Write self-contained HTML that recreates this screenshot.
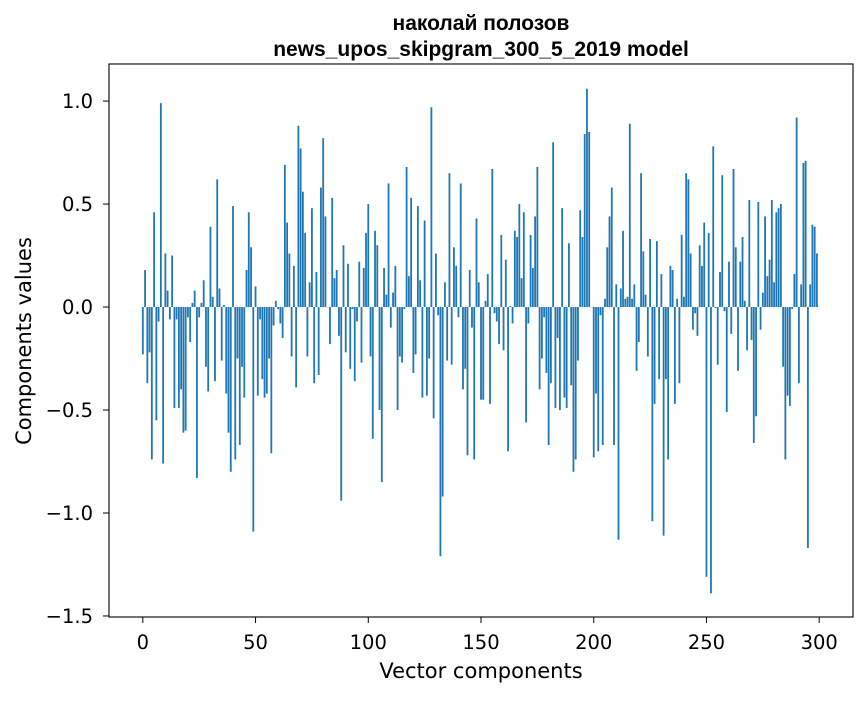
<!DOCTYPE html>
<html><head><meta charset="utf-8"><style>
body{margin:0;background:#fff}
svg text{font-family:"DejaVu Sans","Liberation Sans",sans-serif;fill:#000}
svg text.ttl{font-family:"Liberation Sans","DejaVu Sans",sans-serif}
</style></head><body>
<svg id="chart" width="867" height="696" xmlns="http://www.w3.org/2000/svg">
<rect width="867" height="696" fill="#fff"/>
<text class="ttl" x="481" y="30" text-anchor="middle" font-size="21" font-weight="bold">наколай полозов</text>
<text class="ttl" x="481" y="56" text-anchor="middle" font-size="21" font-weight="bold">news_upos_skipgram_300_5_2019 model</text>
<g id="bars"></g>
<g id="axes"></g>
<rect x="109" y="64" width="744" height="553" fill="none" stroke="#000" stroke-width="1.1"/>
<text x="481" y="678" text-anchor="middle" font-size="21">Vector components</text>
<text transform="translate(31,341) rotate(-90)" text-anchor="middle" font-size="21">Components values</text>
</svg>
<script>
const values = [
-0.23,0.18,-0.37,-0.22,-0.74,0.46,-0.55,-0.07,0.99,-0.76,
0.26,0.08,-0.06,0.25,-0.49,-0.06,-0.49,-0.40,-0.61,-0.60,
-0.05,-0.17,0.02,0.08,-0.83,-0.05,0.02,0.13,-0.29,-0.41,
0.39,0.05,-0.36,0.62,0.09,-0.26,0.01,-0.42,-0.61,-0.80,
0.49,-0.74,-0.25,-0.67,-0.29,-0.44,0.18,0.46,0.29,-1.09,
0.10,-0.43,-0.06,-0.35,-0.44,-0.42,-0.25,-0.71,-0.09,0.03,
-0.01,-0.08,-0.15,0.69,0.41,0.26,-0.24,0.20,-0.39,0.88,
0.77,0.56,0.36,-0.24,0.12,0.48,-0.37,0.17,-0.33,0.58,
0.82,0.44,0.00,-0.18,0.53,0.14,0.18,-0.14,-0.94,0.30,
-0.22,0.21,-0.30,-0.01,-0.36,-0.07,0.22,-0.27,0.19,0.36,
0.50,-0.24,-0.64,0.37,0.30,-0.50,-0.85,0.19,0.06,0.60,
-0.10,0.07,0.20,-0.50,-0.24,-0.27,-0.01,0.68,0.15,0.53,
-0.32,-0.23,0.49,0.13,-0.44,0.42,-0.43,-0.25,0.97,-0.54,
0.26,-0.04,-1.21,-0.92,0.12,-0.26,0.65,-0.28,0.29,0.20,
-0.05,0.60,-0.40,-0.30,-0.72,0.18,-0.10,-0.74,0.43,0.12,
-0.45,-0.45,0.03,0.16,-0.47,0.67,-0.03,-0.07,-0.18,0.35,
-0.21,0.23,-0.70,0.005,-0.08,0.37,0.34,0.50,0.14,0.46,
-0.56,-0.08,0.35,0.19,0.44,0.68,-0.40,-0.25,-0.05,-0.32,
-0.67,-0.37,0.80,-0.49,-0.15,-0.50,0.48,-0.44,-0.49,0.31,
-0.38,-0.80,-0.74,-0.26,0.47,0.34,0.84,1.06,0.85,0.00,
-0.73,-0.42,-0.70,-0.04,-0.67,0.04,0.29,0.44,0.58,-0.67,
0.11,-1.13,0.09,0.37,0.04,0.05,0.89,0.04,0.11,-0.31,
-0.17,0.65,0.27,0.06,-0.24,0.33,-1.04,-0.47,0.32,-0.35,
0.16,-1.11,-0.35,-0.74,0.20,0.18,-0.47,0.04,-0.37,0.35,
0.05,0.65,0.62,0.26,-0.11,-0.03,-0.14,0.30,0.20,0.41,
-1.31,0.36,-1.39,0.78,-0.005,-0.28,0.17,0.64,-0.02,-0.51,
0.22,-0.13,0.67,0.29,-0.31,0.22,0.34,0.03,-0.21,0.52,
-0.16,-0.66,-0.53,0.51,-0.11,0.07,0.44,0.15,0.23,0.52,
0.12,0.46,0.48,0.50,-0.29,-0.74,-0.43,-0.48,-0.01,0.16,
0.92,-0.37,0.11,0.70,0.71,-1.17,0.11,0.40,0.39,0.26];
const xTicks = [0,50,100,150,200,250,300];
const yTicks = [-1.5,-1.0,-0.5,0.0,0.5,1.0];
const yTickLabels = ["\u22121.5","\u22121.0","\u22120.5","0.0","0.5","1.0"];

const X0=109,X1=853,Y0=64,Y1=617;
const xMin=-15,xMax=315,yMin=-1.505,yMax=1.18;
const xs=v=>X0+(v-xMin)/(xMax-xMin)*(X1-X0);
const ys=v=>Y1-(v-yMin)/(yMax-yMin)*(Y1-Y0);
const NS="http://www.w3.org/2000/svg";
const bars=document.getElementById('bars');
values.forEach((v,i)=>{
  const r=document.createElementNS(NS,'rect');
  const xl=xs(i-0.4),xr=xs(i+0.4);
  const y=Math.min(ys(v),ys(0)),h=Math.abs(ys(v)-ys(0));
  r.setAttribute('x',xl);r.setAttribute('width',xr-xl);
  r.setAttribute('y',y);r.setAttribute('height',Math.max(h,0.3));
  r.setAttribute('fill','#1f77b4');
  
  
  bars.appendChild(r);
});
const axes=document.getElementById('axes');
xTicks.forEach(t=>{
  const x=xs(t);
  const l=document.createElementNS(NS,'line');
  l.setAttribute('x1',x);l.setAttribute('x2',x);l.setAttribute('y1',Y1);l.setAttribute('y2',Y1+6);
  l.setAttribute('stroke','#000');
  
  
  axes.appendChild(l);
  const tx=document.createElementNS(NS,'text');
  tx.setAttribute('x',x);tx.setAttribute('y',649);tx.setAttribute('text-anchor','middle');tx.setAttribute('font-size','19.5');
  tx.textContent=t;
  
  
  axes.appendChild(tx);
});
yTicks.forEach((t,i)=>{
  const y=ys(t);
  const l=document.createElementNS(NS,'line');
  l.setAttribute('x1',X0-6);l.setAttribute('x2',X0);l.setAttribute('y1',y);l.setAttribute('y2',y);
  l.setAttribute('stroke','#000');
  
  
  axes.appendChild(l);
  const tx=document.createElementNS(NS,'text');
  tx.setAttribute('x',X0-16);tx.setAttribute('y',y+7);tx.setAttribute('text-anchor','end');tx.setAttribute('font-size','19.5');
  tx.textContent=yTickLabels[i];
  
  
  axes.appendChild(tx);
});
</script>
</body></html>
